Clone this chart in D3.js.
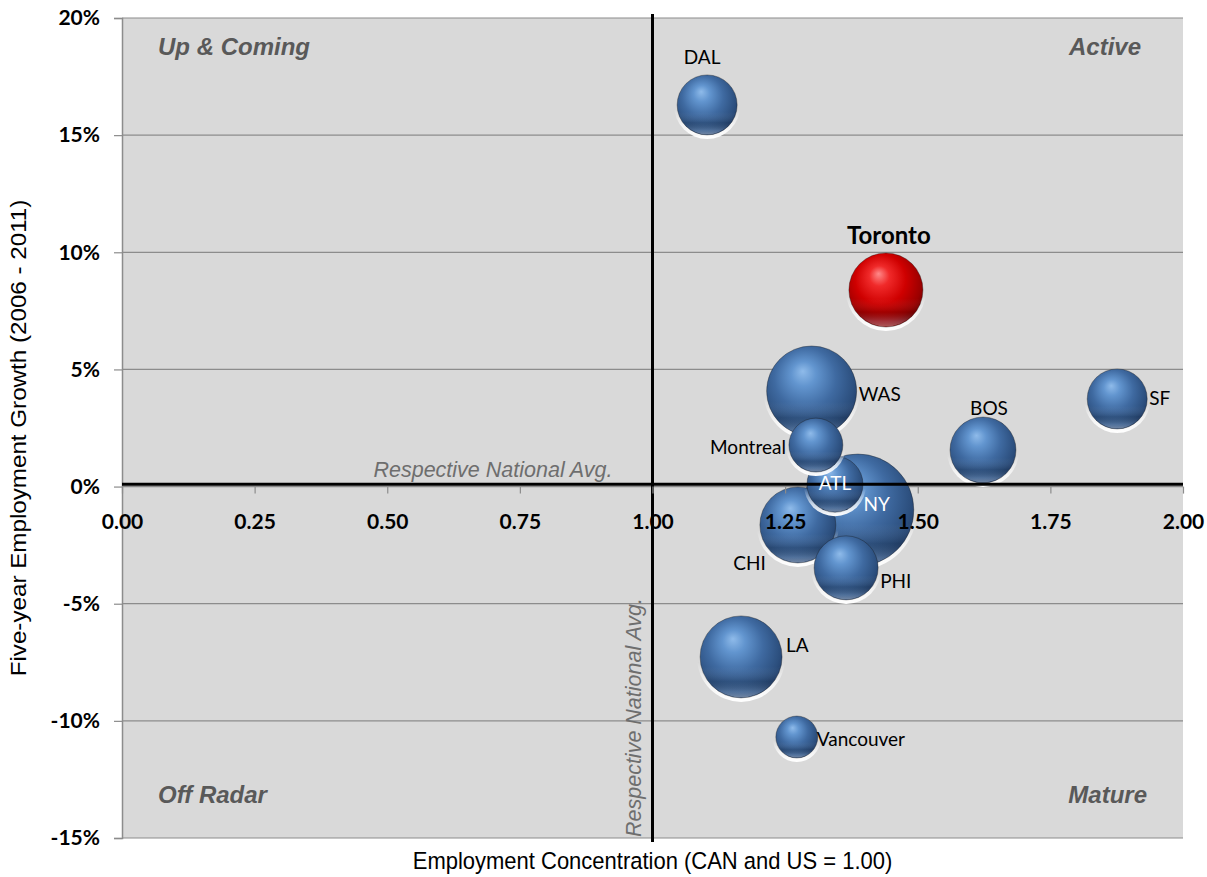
<!DOCTYPE html>
<html>
<head>
<meta charset="utf-8">
<script src="https://cdn.jsdelivr.net/npm/d3@7/dist/d3.min.js"></script>
<style>
  body { margin: 0; background: #ffffff; }
  svg text { font-family: "Liberation Sans", Arial, sans-serif; }
</style>
</head>
<body>
<svg id="chart" width="1207" height="877"></svg>
<script>
// ---- data ----
const cities        = ["NY", "WAS", "LA", "CHI", "Toronto", "BOS", "PHI", "DAL", "SF", "ATL", "Montreal", "Vancouver"];
const concentration = [1.387, 1.300, 1.167, 1.274, 1.440, 1.623, 1.365, 1.103, 1.876, 1.344, 1.308, 1.272];
const growthPct     = [-1.0, 4.08, -7.27, -1.64, 8.39, 1.56, -3.47, 16.29, 3.74, 0.1, 1.77, -10.69];
const employment    = [100, 64.6, 53.6, 46.0, 43.7, 34.7, 32.7, 28.7, 28.7, 25.0, 23.2, 14.0];

const xTicks = [0, 0.25, 0.5, 0.75, 1.0, 1.25, 1.5, 1.75, 2.0];
const yTicks = [-15, -10, -5, 0, 5, 10, 15, 20];
const quadrantNames = ["Up & Coming", "Active", "Off Radar", "Mature"];
const nationalAvgX = 1.0;
const nationalAvgY = 0.1;
const highlightCity = "Toronto";

// ---- layout ----
const svg = d3.select("#chart");
const plot = { left: 122, right: 1183, top: 18, bottom: 838 };

const x = d3.scaleLinear().domain([0, 2]).range([plot.left, plot.right]);
const y = d3.scaleLinear().domain([-15, 20]).range([plot.bottom, plot.top]);
const r = d3.scaleSqrt().domain([0, 100]).range([0, 56]);

const points = cities.map((c, i) => ({
  name: c, cx: concentration[i], gy: growthPct[i], size: employment[i]
})).sort((a, b) => b.size - a.size);

// ---- gradients for the glossy spheres ----
const defs = svg.append("defs");
function sphereGradient(id, stops) {
  const g = defs.append("radialGradient").attr("id", id)
    .attr("cx", "0.45").attr("cy", "0.42").attr("r", "0.62")
    .attr("fx", "0.40").attr("fy", "0.28");
  stops.forEach(([o, c]) => g.append("stop").attr("offset", o).attr("stop-color", c));
}
sphereGradient("ballBlue", [[0, "#8fbbea"], [0.22, "#6295cf"], [0.55, "#3f6aa1"], [0.85, "#2c4f7e"], [1, "#213d68"]]);
sphereGradient("ballRed",  [[0, "#ff8a8a"], [0.22, "#f02a2a"], [0.55, "#cf0000"], [0.85, "#9c0000"], [1, "#700000"]]);

// lower reflection band inside each sphere
const refl = defs.append("linearGradient").attr("id", "reflect")
  .attr("x1", 0).attr("y1", 0).attr("x2", 0).attr("y2", 1);
[[0, "#ffffff", 0], [0.62, "#ffffff", 0], [0.8, "#000000", 0.12], [0.93, "#bcd6f3", 0.25], [1, "#ffffff", 0.35]]
  .forEach(([o, c, a]) => refl.append("stop").attr("offset", o).attr("stop-color", c).attr("stop-opacity", a));

// white halo under the lower rim
const halo = defs.append("linearGradient").attr("id", "halo")
  .attr("x1", 0).attr("y1", 0).attr("x2", 0).attr("y2", 1);
[[0, 0], [0.55, 0], [0.8, 0.7], [1, 1]]
  .forEach(([o, a]) => halo.append("stop").attr("offset", o).attr("stop-color", "#ffffff").attr("stop-opacity", a));

const soften = defs.append("filter").attr("id", "soft").attr("x", "-20%").attr("y", "-20%").attr("width", "140%").attr("height", "140%");
soften.append("feGaussianBlur").attr("stdDeviation", 0.6);

// ---- plot background and grid ----
svg.append("rect")
  .attr("x", plot.left).attr("y", plot.top)
  .attr("width", plot.right - plot.left).attr("height", plot.bottom - plot.top)
  .attr("fill", "#d9d9d9");

svg.append("g").selectAll("line").data(yTicks).join("line")
  .attr("x1", plot.left).attr("x2", plot.right)
  .attr("y1", d => y(d)).attr("y2", d => y(d))
  .attr("stroke", "#8c8c8c").attr("stroke-width", 1.2);

// y axis
const yAxis = svg.append("g").attr("transform", `translate(${plot.left},0)`)
  .call(d3.axisLeft(y).tickValues(yTicks).tickFormat(d => d + "%").tickSize(8).tickPadding(14));
yAxis.select(".domain").attr("stroke", "#8c8c8c").attr("stroke-width", 1.5);
yAxis.selectAll(".tick line").attr("stroke", "#8c8c8c").attr("stroke-width", 1.2);
yAxis.selectAll(".tick text")
  .style("font-family", "Lato, 'Open Sans', sans-serif")
  .attr("font-weight", "bold").attr("font-size", 21).attr("fill", "#000");

// ---- quadrant captions ----
const qStyle = sel => sel.attr("font-style", "italic").attr("font-weight", "bold")
  .attr("font-size", 24).attr("fill", "#595959");
svg.append("text").attr("x", plot.left + 36).attr("y", y(18.4)).attr("text-anchor", "start").call(qStyle).text(quadrantNames[0]);
svg.append("text").attr("x", plot.right - 42).attr("y", y(18.4)).attr("text-anchor", "end").call(qStyle).text(quadrantNames[1]);
svg.append("text").attr("x", plot.left + 36).attr("y", y(-13.5)).attr("text-anchor", "start").call(qStyle).text(quadrantNames[2]);
svg.append("text").attr("x", plot.right - 36).attr("y", y(-13.5)).attr("text-anchor", "end").call(qStyle).text(quadrantNames[3]);

// ---- national average captions ----
svg.append("text")
  .attr("x", x(nationalAvgX) - 40).attr("y", y(nationalAvgY) - 7)
  .attr("text-anchor", "end").attr("font-style", "italic")
  .attr("font-size", 21.5).attr("fill", "#6e6e6e")
  .text("Respective National Avg.");
svg.append("text")
  .attr("transform", `translate(${x(nationalAvgX) - 12},${plot.bottom - 1}) rotate(-90)`)
  .attr("text-anchor", "start").attr("font-style", "italic")
  .attr("font-size", 21.5).attr("fill", "#6e6e6e")
  .text("Respective National Avg.");

// ---- bubbles ----
const balls = svg.append("g").selectAll("g").data(points).join("g")
  .attr("transform", d => `translate(${x(d.cx)},${y(d.gy)})`);
balls.append("circle")
  .attr("r", d => r(d.size) + 3).attr("cy", 1)
  .attr("fill", "url(#halo)").attr("filter", "url(#soft)");
balls.append("circle")
  .attr("r", d => r(d.size))
  .attr("fill", d => d.name === highlightCity ? "url(#ballRed)" : "url(#ballBlue)")
  .attr("stroke", "rgba(20,20,20,0.35)").attr("stroke-width", 1);
balls.append("circle")
  .attr("r", d => r(d.size) - 0.5)
  .attr("fill", "url(#reflect)");

// ---- national average lines (drawn over the bubbles) ----
svg.append("line")
  .attr("x1", plot.left).attr("x2", plot.right)
  .attr("y1", y(nationalAvgY)).attr("y2", y(nationalAvgY))
  .attr("stroke", "#000").attr("stroke-width", 3);
svg.append("line")
  .attr("x1", x(nationalAvgX)).attr("x2", x(nationalAvgX))
  .attr("y1", plot.top - 4).attr("y2", plot.bottom + 4)
  .attr("stroke", "#000").attr("stroke-width", 3);

// x axis crosses at 0%, its labels sit on top of the bubbles
const xAxis = svg.append("g").attr("transform", `translate(0,${y(0)})`)
  .call(d3.axisBottom(x).tickValues(xTicks).tickFormat(d3.format(".2f")).tickSize(7).tickPadding(21));
xAxis.select(".domain").remove();
xAxis.selectAll(".tick line").attr("stroke", "#8c8c8c").attr("stroke-width", 1.2);
xAxis.selectAll(".tick text")
  .style("font-family", "Lato, 'Open Sans', sans-serif")
  .attr("font-weight", "bold").attr("font-size", 21).attr("fill", "#000");

// ---- bubble labels ----
// placement: [side, dx, dy] relative to the bubble edge or centre
const placement = {
  DAL: ["above", -5, -10], Toronto: ["above", 3, -10], BOS: ["above", 6, -2],
  WAS: ["right", 2, 3], SF: ["right", 2, -1], PHI: ["right", 2, 13], LA: ["right", 4, -12], Vancouver: ["right", -1, 1],
  Montreal: ["left", -3, 1], CHI: ["left", 6, 38],
  ATL: ["center", 0, -2], NY: ["center", 19, -7]
};
svg.append("g").selectAll("text").data(points).join("text")
  .each(function (d) {
    const [side, dx, dy] = placement[d.name];
    const cx = x(d.cx), cy = y(d.gy), rad = r(d.size);
    const t = d3.select(this)
      .style("font-family", "Lato, 'Open Sans', sans-serif")
      .attr("font-size", d.name === highlightCity ? 24 : 19)
      .attr("font-weight", d.name === highlightCity ? "bold" : "normal")
      .attr("fill", side === "center" ? "#ffffff" : "#000000")
      .attr("dominant-baseline", "central");
    if (side === "above") t.attr("x", cx + dx).attr("y", cy - rad + dy - 8).attr("text-anchor", "middle");
    if (side === "right") t.attr("x", cx + rad + dx).attr("y", cy + dy).attr("text-anchor", "start");
    if (side === "left")  t.attr("x", cx - rad + dx).attr("y", cy + dy).attr("text-anchor", "end");
    if (side === "center") t.attr("x", cx + dx).attr("y", cy + dy).attr("text-anchor", "middle");
  })
  .text(d => d.name);

// ---- axis titles ----
svg.append("text")
  .attr("transform", `translate(${(plot.left + plot.right) / 2},869) scale(1,1.08)`)
  .attr("text-anchor", "middle").attr("font-size", 22).attr("fill", "#000")
  .text("Employment Concentration (CAN and US = 1.00)");
svg.append("text")
  .attr("transform", `translate(26,${(plot.top + plot.bottom) / 2 + 10}) rotate(-90) scale(1.1,1)`)
  .attr("text-anchor", "middle").attr("font-size", 22).attr("fill", "#000")
  .text("Five-year Employment Growth (2006 - 2011)");
</script>
</body>
</html>
